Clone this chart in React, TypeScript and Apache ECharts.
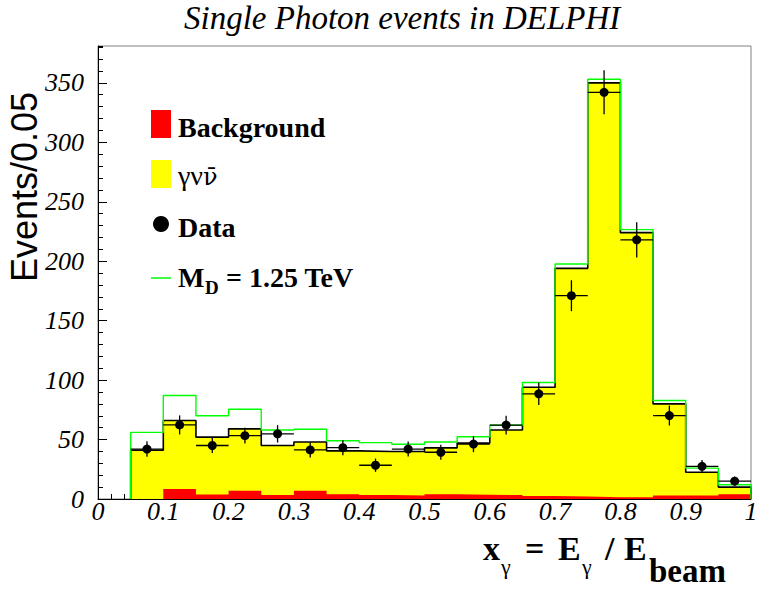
import React, { useEffect, useRef } from 'react';
import * as echarts from 'echarts';

const SERIF = "'Liberation Serif', serif";
const SANS = "'Liberation Sans', sans-serif";
// italic serif for tick labels (font-style appended so the SVG text keeps it)
const TICK_FONT = 'Liberation Serif;font-style:italic';

// Histogram bins (lower edges), width 0.05 in x_gamma
const binLows = [0.05, 0.10, 0.15, 0.20, 0.25, 0.30, 0.35, 0.40, 0.45, 0.50, 0.55, 0.60, 0.65, 0.70, 0.75, 0.80, 0.85, 0.90, 0.95];
const binWidth = 0.05;
// Standard model expectation (γνν̄ + background): black outline / yellow fill
const smTotal = [41, 66, 52, 59, 45, 48, 40.5, 40, 40, 43, 47, 58, 94, 194, 350, 224, 80, 22.5, 10];
// Background (red)
const background = [0, 8.5, 3.7, 7, 3.4, 7, 4, 3.3, 3, 4, 3.5, 3.4, 2.5, 2, 1.5, 1.5, 3, 3, 4];
// M_D = 1.25 TeV prediction (green line)
const mdPrediction = [56, 87, 70, 75.5, 58, 58.7, 49, 47.4, 46, 48, 52.4, 62, 98, 197.7, 353, 226.6, 82.8, 26, 12];
// Data points and their errors
const dataValues = [42, 62.3, 45, 53.3, 54.8, 41.3, 43.2, 28.4, 42, 39.3, 46.2, 62.2, 88.5, 171, 342, 218, 70.2, 27.5, 15];
const dataErrors = [6.5, 8, 6.3, 6.6, 7.3, 6.3, 6.5, 5.6, 6.3, 6.3, 6.8, 7.9, 9.4, 13, 18.5, 14.8, 8.4, 5.2, 3.9];

const xTickLabels = ['0', '0.1', '0.2', '0.3', '0.4', '0.5', '0.6', '0.7', '0.8', '0.9', '1'];
const yMax = 381;

const titleText = 'Single Photon events in DELPHI';
const yAxisTitle = 'Events/0.05';

function histPoints(lows: number[], vals: number[], w: number): number[][] {
  const pts: number[][] = [[lows[0], 0]];
  lows.forEach((x, i) => pts.push([x, vals[i]]));
  const end = lows[lows.length - 1] + w;
  pts.push([end, vals[vals.length - 1]]);
  pts.push([end, 0]);
  return pts;
}

// y of a 'middle' anchor for a given baseline
const mid = (baseline: number, fs: number, k = 0.3375) => baseline - k * fs;

export default function App() {
  const ref = useRef<HTMLDivElement>(null);
  useEffect(() => {
    if (!ref.current) return;
    const chart = echarts.init(ref.current, null, { renderer: 'svg' });
    const dataPts = binLows.map((x, i) => [x + binWidth / 2, dataValues[i], dataErrors[i]]);
    const bold = (fs: number) => ({ fontFamily: SERIF, fontWeight: 'bold' as const, fontSize: fs, fill: '#000' });
    const txt = (x: number, baseline: number, text: string, style: any) => ({
      type: 'text', x, y: mid(baseline, style.fontSize),
      style: { text, ...style, textAlign: 'left', textVerticalAlign: 'middle' },
    });
    const tickLabel = { fontFamily: TICK_FONT, fontStyle: 'italic', fontSize: 26, color: '#000' };

    const option: any = {
      animation: false,
      backgroundColor: '#fff',
      grid: { left: 98, right: 6, top: 46, bottom: 93, show: true, borderColor: '#808080', borderWidth: 1, backgroundColor: 'transparent' },
      xAxis: [{
        type: 'value', min: 0, max: 1, interval: 0.1,
        axisLine: { lineStyle: { color: '#000', width: 1 } },
        axisTick: { inside: true, length: 9, lineStyle: { color: '#000' } },
        minorTick: { show: true, splitNumber: 5, length: 5, lineStyle: { color: '#000' } },
        splitLine: { show: false }, minorSplitLine: { show: false },
        axisLabel: { ...tickLabel, margin: 7, formatter: (v: number) => xTickLabels[Math.round(v * 10)] ?? '' },
      }],
      yAxis: [{
        type: 'value', min: 0, max: yMax, interval: 50,
        axisLine: { show: true, lineStyle: { color: '#000', width: 1 } },
        axisTick: { show: true, inside: true, length: 9, lineStyle: { color: '#000' } },
        splitLine: { show: false },
        axisLabel: { ...tickLabel, margin: 14, showMaxLabel: false },
      }, {
        type: 'value', min: 0, max: yMax, interval: 10, position: 'left',
        axisLine: { show: false },
        axisTick: { show: true, inside: true, length: 5, lineStyle: { color: '#000' } },
        axisLabel: { show: false },
        splitLine: { show: false },
      }],
      series: [
        {
          name: 'γνν̄', type: 'line', step: 'end', symbol: 'none',
          data: histPoints(binLows, smTotal, binWidth),
          lineStyle: { color: '#000', width: 1.6 },
          areaStyle: { color: '#ffff00', opacity: 1 }, z: 2,
        },
        {
          name: 'Background', type: 'line', step: 'end', symbol: 'none',
          data: histPoints(binLows, background, binWidth),
          lineStyle: { width: 0, color: '#ff0000' },
          areaStyle: { color: '#ff0000', opacity: 1 }, z: 3,
        },
        {
          name: 'M_D = 1.25 TeV', type: 'line', step: 'end', symbol: 'none',
          data: histPoints(binLows, mdPrediction, binWidth),
          lineStyle: { color: '#00ff00', width: 1.4 }, z: 4,
        },
        {
          name: 'Data', type: 'custom', data: dataPts, encode: { x: 0, y: 1 }, z: 5,
          renderItem: (params: any, api: any) => {
            const x = api.value(0), y = api.value(1), e = api.value(2);
            const c = api.coord([x, y]);
            const l = api.coord([x - binWidth / 2, y]);
            const r = api.coord([x + binWidth / 2, y]);
            const t = api.coord([x, y + e]);
            const b = api.coord([x, y - e]);
            const st = { stroke: '#000', lineWidth: 1.3 };
            return {
              type: 'group',
              children: [
                { type: 'line', shape: { x1: l[0], y1: l[1], x2: r[0], y2: r[1] }, style: st },
                { type: 'line', shape: { x1: t[0], y1: t[1], x2: b[0], y2: b[1] }, style: st },
                { type: 'circle', shape: { cx: c[0], cy: c[1], r: 4.5 }, style: { fill: '#000' } },
              ],
            };
          },
        },
      ],
      graphic: [
        // Title
        txt(184, 29.5, titleText, { fontFamily: SERIF, fontStyle: 'italic', fontSize: 33, fill: '#000' }),
        // Y axis title
        { type: 'text', x: 24, y: 187, rotation: Math.PI / 2, style: { text: yAxisTitle, fontFamily: SANS, fontSize: 36, fill: '#000', textAlign: 'center', textVerticalAlign: 'middle' } },
        // X axis title: x_γ = E_γ / E_beam
        txt(483, 560, 'x', bold(34)),
        txt(501, 574, 'γ', { fontFamily: SERIF, fontSize: 22, fill: '#000' }),
        txt(525, 560, '=', bold(34)),
        txt(558, 560, 'E', bold(34)),
        txt(582, 574, 'γ', { fontFamily: SERIF, fontSize: 22, fill: '#000' }),
        txt(605, 560, '/', bold(34)),
        txt(624, 560, 'E', bold(34)),
        txt(649, 582, 'beam', bold(33)),
        // Legend
        { type: 'rect', shape: { x: 151, y: 110, width: 20, height: 28 }, style: { fill: '#ff0000' } },
        txt(178, 137, 'Background', bold(28)),
        { type: 'rect', shape: { x: 151, y: 160, width: 20, height: 28 }, style: { fill: '#ffff00' } },
        {
          type: 'text', x: 178, y: mid(185, 28),
          style: {
            text: '{a|γν}{b|ν̄}', textAlign: 'left', textVerticalAlign: 'middle',
            rich: {
              a: { fontFamily: 'Liberation Serif', fontSize: 28, fill: '#000', color: '#000' },
              b: { fontFamily: 'DejaVu Serif', fontSize: 24, fill: '#000', color: '#000', padding: [2, 0, 0, 0] },
            },
          },
        },
        { type: 'circle', shape: { cx: 161, cy: 224, r: 8 }, style: { fill: '#000' } },
        txt(178, 237, 'Data', bold(28)),
        { type: 'line', shape: { x1: 151, y1: 278, x2: 171, y2: 278 }, style: { stroke: '#00ff00', lineWidth: 1.5 } },
        txt(178, 287, 'M', bold(28)),
        txt(205, 294, 'D', bold(19)),
        txt(219, 287, ' = 1.25 TeV', bold(28)),
      ],
    };
    chart.setOption(option);
    return () => chart.dispose();
  }, []);
  return <div ref={ref} style={{ position: 'absolute', left: 0, top: 0, width: 757, height: 592 }} />;
}
